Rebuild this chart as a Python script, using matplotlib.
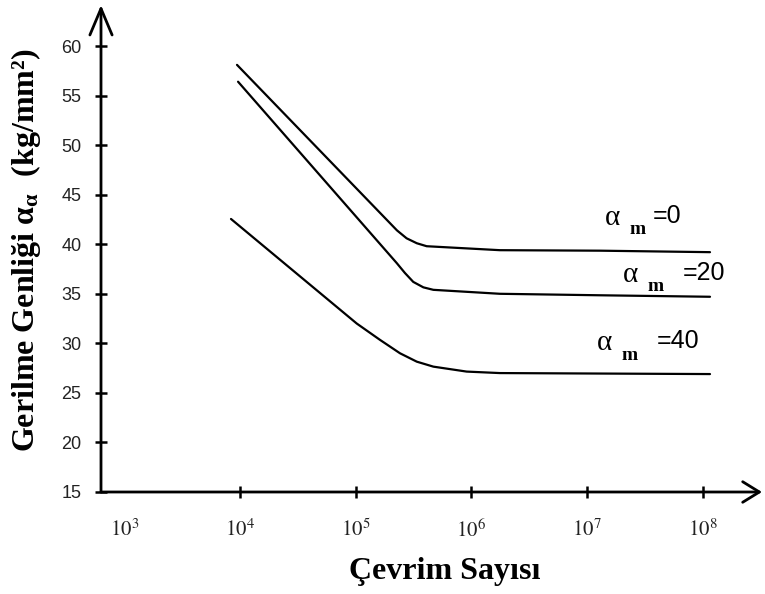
import numpy as np
import matplotlib
matplotlib.use("Agg")
import matplotlib.pyplot as plt
from matplotlib.ticker import FixedLocator, NullLocator

plt.rcParams['mathtext.fontset'] = 'stix'

# Data (cycles, stress amplitude kg/mm^2)
cycles_m0 = [9.42e3, 2.27e5, 2.75e5, 3.37e5, 4.10e5, 1.76e6, 1.29e7, 1.15e8]
stress_m0 = [58.1, 41.4, 40.6, 40.1, 39.8, 39.4, 39.35, 39.2]

cycles_m20 = [9.62e3, 2.26e5, 2.66e5, 3.14e5, 3.84e5, 4.68e5, 1.76e6, 1.29e7, 1.15e8]
stress_m20 = [56.4, 38.1, 37.1, 36.2, 35.65, 35.4, 35.0, 34.85, 34.7]

cycles_m40 = [8.36e3, 1.02e5, 1.62e5, 2.41e5, 3.37e5, 4.68e5, 9.08e5, 1.76e6, 1.15e8]
stress_m40 = [42.55, 32.0, 30.35, 29.0, 28.15, 27.65, 27.15, 27.0, 26.9]

curve_labels = ["=0", "=20", "=40"]
label_pos = [(10**7.153, 42.65), (10**7.309, 36.9), (10**7.084, 30.03)]
label_gap = [48, 60, 60]   # px from alpha to the "=.." part

y_ticks = [15, 20, 25, 30, 35, 40, 45, 50, 55, 60]
x_ticks = [1e3, 1e4, 1e5, 1e6, 1e7, 1e8]
x_ticklabels = ["$10^{3}$", "$10^{4}$", "$10^{5}$", "$10^{6}$", "$10^{7}$", "$10^{8}$"]

fig = plt.figure(figsize=(7.65, 5.94), dpi=100)
ax = fig.add_axes([101 / 765, 102 / 594, 661 / 765, 487 / 594])

for xs, ys in [(cycles_m0, stress_m0), (cycles_m20, stress_m20), (cycles_m40, stress_m40)]:
    ax.plot(xs, ys, color="black", lw=1.6, solid_capstyle="round")

ax.set_xscale("log")
ax.set_xlim(10**2.799, 10**8.51)
ax.set_ylim(15, 64.14)

for s in ax.spines.values():
    s.set_visible(False)

# axes drawn as open arrows
arrow_kw = dict(xycoords="axes fraction", textcoords="axes fraction")
ax.annotate("", xy=(0, 1), xytext=(0, 0), **arrow_kw,
            arrowprops=dict(arrowstyle="->,head_length=0.95,head_width=0.4",
                            lw=2.0, color="black", mutation_scale=20,
                            shrinkA=0, shrinkB=0))
ax.annotate("", xy=(1, 0), xytext=(0, 0), **arrow_kw,
            arrowprops=dict(arrowstyle="->,head_length=0.6,head_width=0.37",
                            lw=2.0, color="black", mutation_scale=20,
                            shrinkA=0, shrinkB=0))

ax.yaxis.set_major_locator(FixedLocator(y_ticks))
ax.set_yticklabels([str(v) for v in y_ticks], family="Liberation Sans",
                   fontsize=13, color="#222222")
ax.xaxis.set_major_locator(FixedLocator(x_ticks))
ax.xaxis.set_minor_locator(NullLocator())
ax.set_xticklabels(x_ticklabels, fontsize=15, color="#222222")
ax.tick_params(axis="both", direction="inout", length=8, width=1.8, color="black")
ax.tick_params(axis="y", pad=10)
ax.tick_params(axis="x", pad=15)
ax.xaxis.get_major_ticks()[0].tick1line.set_visible(False)

# curve labels
for (lx, ly), txt, gap in zip(label_pos, curve_labels, label_gap):
    ax.annotate("α", xy=(lx, ly), xytext=(0, 0), textcoords="offset pixels",
                family="Liberation Serif", fontsize=21, ha="left", va="center")
    ax.annotate("m", xy=(lx, ly), xytext=(25, -12), textcoords="offset pixels",
                family="Liberation Serif", fontweight="bold", fontsize=14,
                ha="left", va="center")
    ax.annotate(txt, xy=(lx, ly), xytext=(gap, 2), textcoords="offset pixels",
                family="Liberation Sans", fontsize=18, ha="left", va="center")

fig.text(26 / 765, 1 - 250 / 594, "Gerilme Genliği α$_{\\mathregular{α}}$  (kg/mm²)",
         rotation=90, ha="center", va="center", family="Liberation Serif",
         fontweight="bold", fontsize=23)
fig.text(445 / 765, 1 - 572 / 594, "Çevrim Sayısı", ha="center", va="center",
         family="Liberation Serif", fontweight="bold", fontsize=23)

fig.savefig("out.png", dpi=100)
